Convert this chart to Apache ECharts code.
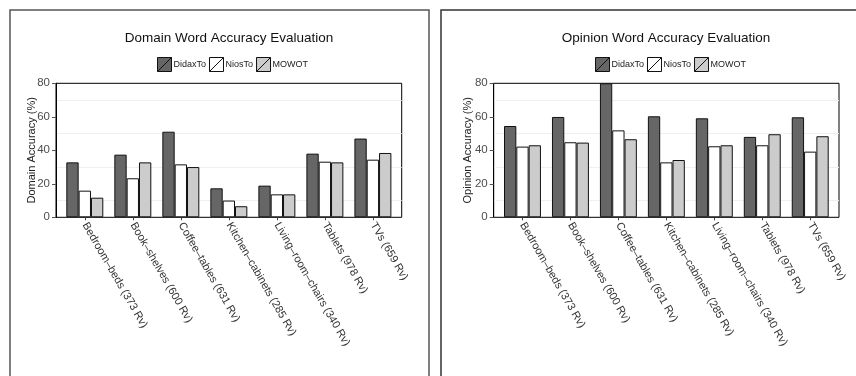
<!DOCTYPE html>
<html><head><meta charset="utf-8">
<script src="https://cdn.jsdelivr.net/npm/echarts@6/dist/echarts.min.js"></script>
<style>html,body{margin:0;padding:0;background:#fff}#c{width:856px;height:376px}</style>
</head><body><div id="c"></div>
<script>
const categories = ["Bedroom\u2013beds (373 Rv)","Book\u2013shelves (600 Rv)","Coffee\u2013tables (631 Rv)","Kitchen\u2013cabinets (285 Rv)","Living\u2013room\u2013chairs (340 Rv)","Tablets (978 Rv)","TVs (659 Rv)"];
const seriesNames = ["DidaxTo","NiosTo","MOWOT"];
const domainDidax = [32.8, 37.4, 51.1, 17.3, 18.9, 38.0, 47.0];
const domainNios  = [15.9, 23.3, 31.6, 10.0, 13.7, 33.2, 34.4];
const domainMowot = [11.7, 32.8, 30.0, 6.6, 13.7, 32.8, 38.4];
const opinionDidax = [54.5, 59.9, 80.0, 60.3, 59.1, 48.0, 59.7];
const opinionNios  = [42.2, 44.8, 51.9, 32.8, 42.4, 43.0, 39.2];
const opinionMowot = [43.0, 44.6, 46.6, 34.2, 43.0, 49.6, 48.4];
const yTicks = [0, 20, 40, 60, 80];
const yNames = ['Domain Accuracy (%)', 'Opinion Accuracy (%)'];

const colors = ['#666666', '#ffffff', '#cccccc'];
const chart = echarts.init(document.getElementById('c'));
const font = 'Liberation Sans, Arial, sans-serif';
const iconPath = 'path://M0,0L10,0L10,10L0,10Z M0,10L10,0';

// outer plot boxes
const boxes = [{ left: 56, width: 345.7 }, { left: 493.7, width: 345.3 }];
const TOP = 83.3, H = 134;

function innerGrid(b) {
  const unit = b.width / 7.2; // ggplot-like 0.6 expansion each side
  return { left: b.left + unit * 0.1, top: TOP, width: unit * 7, height: H, show: false };
}

const grids = [
  Object.assign({ top: TOP, height: H, show: true, borderColor: '#000', borderWidth: 1, backgroundColor: '#fff' }, boxes[0]),
  Object.assign({ top: TOP, height: H, show: true, borderColor: '#000', borderWidth: 1, backgroundColor: '#fff' }, boxes[1]),
  innerGrid(boxes[0]),
  innerGrid(boxes[1])
];

function outerX(i) { return { type: 'value', gridIndex: i, show: false, min: 0, max: 1 }; }
function innerX(i) {
  return {
    type: 'category', gridIndex: i, data: categories,
    axisLine: { show: false },
    axisTick: { show: true, alignWithLabel: true, length: 3, lineStyle: { color: '#444' } },
    axisLabel: { rotate: -60, interval: 0, fontSize: 11, color: '#333', fontFamily: font, margin: 6 }
  };
}
function outerY(i) {
  return {
    type: 'value', gridIndex: i, min: yTicks[0], max: yTicks[yTicks.length - 1], interval: 20,
    axisLine: { show: true, lineStyle: { color: '#000', width: 1 } },
    axisTick: { show: true, length: 4, lineStyle: { color: '#555' } },
    axisLabel: { fontSize: 11.5, color: '#4d4d4d', fontFamily: font, margin: 6 },
    splitLine: { show: false },
    minorTick: { show: false, splitNumber: 2 },
    minorSplitLine: { show: true, lineStyle: { color: '#efefef', width: 1 } }
  };
}
function innerY(i) {
  return { type: 'value', gridIndex: i, show: false, min: yTicks[0], max: yTicks[yTicks.length - 1], splitLine: { show: false } };
}
function bars(i, arrs) {
  return arrs.map((d, k) => ({
    name: seriesNames[k], type: 'bar', xAxisIndex: i, yAxisIndex: i, data: d,
    barGap: '0%', barCategoryGap: '23%',
    itemStyle: { color: colors[k], borderColor: '#111', borderWidth: 1 },
    emphasis: { disabled: true }
  }));
}
function legend(cx, id) {
  return {
    id: id, data: seriesNames, top: 57, left: cx, padding: 0, icon: iconPath, itemWidth: 14, itemHeight: 14, itemGap: 3,
    textStyle: { fontSize: 9, color: '#222', fontFamily: font, padding: [0, 0, 0, -3] },
    itemStyle: { borderColor: '#111', borderWidth: 1 },
    selectedMode: false
  };
}
function yName(x, text) {
  return { type: 'text', x: x, y: TOP + H / 2, rotation: Math.PI / 2, silent: true,
    style: { text: text, fill: '#222', font: '11px ' + font, align: 'center', verticalAlign: 'middle',
             textAlign: 'center', textVerticalAlign: 'middle' } };
}

chart.setOption({
  animation: false,
  backgroundColor: '#fff',
  title: [
    { text: 'Domain Word Accuracy Evaluation', left: 229, top: 31, padding: 0, textAlign: 'center',
      textStyle: { fontSize: 13.5, fontWeight: 'normal', color: '#111', fontFamily: font } },
    { text: 'Opinion Word Accuracy Evaluation', left: 666, top: 31, padding: 0, textAlign: 'center',
      textStyle: { fontSize: 13.5, fontWeight: 'normal', color: '#111', fontFamily: font } }
  ],
  legend: [legend(157, 'l0'), legend(595, 'l1')],
  grid: grids,
  xAxis: [outerX(0), outerX(1), innerX(2), innerX(3)],
  yAxis: [outerY(0), outerY(1), innerY(2), innerY(3)],
  series: bars(2, [domainDidax, domainNios, domainMowot]).concat(bars(3, [opinionDidax, opinionNios, opinionMowot])),
  graphic: [
    { type: 'rect', shape: { x: 10, y: 10, width: 419, height: 400 }, style: { fill: null, stroke: '#555', lineWidth: 1.5 }, silent: true },
    { type: 'rect', shape: { x: 441, y: 10, width: 430, height: 400 }, style: { fill: null, stroke: '#333', lineWidth: 1.5 }, silent: true },
    yName(32, yNames[0]),
    yName(468, yNames[1])
  ]
});
</script></body></html>
